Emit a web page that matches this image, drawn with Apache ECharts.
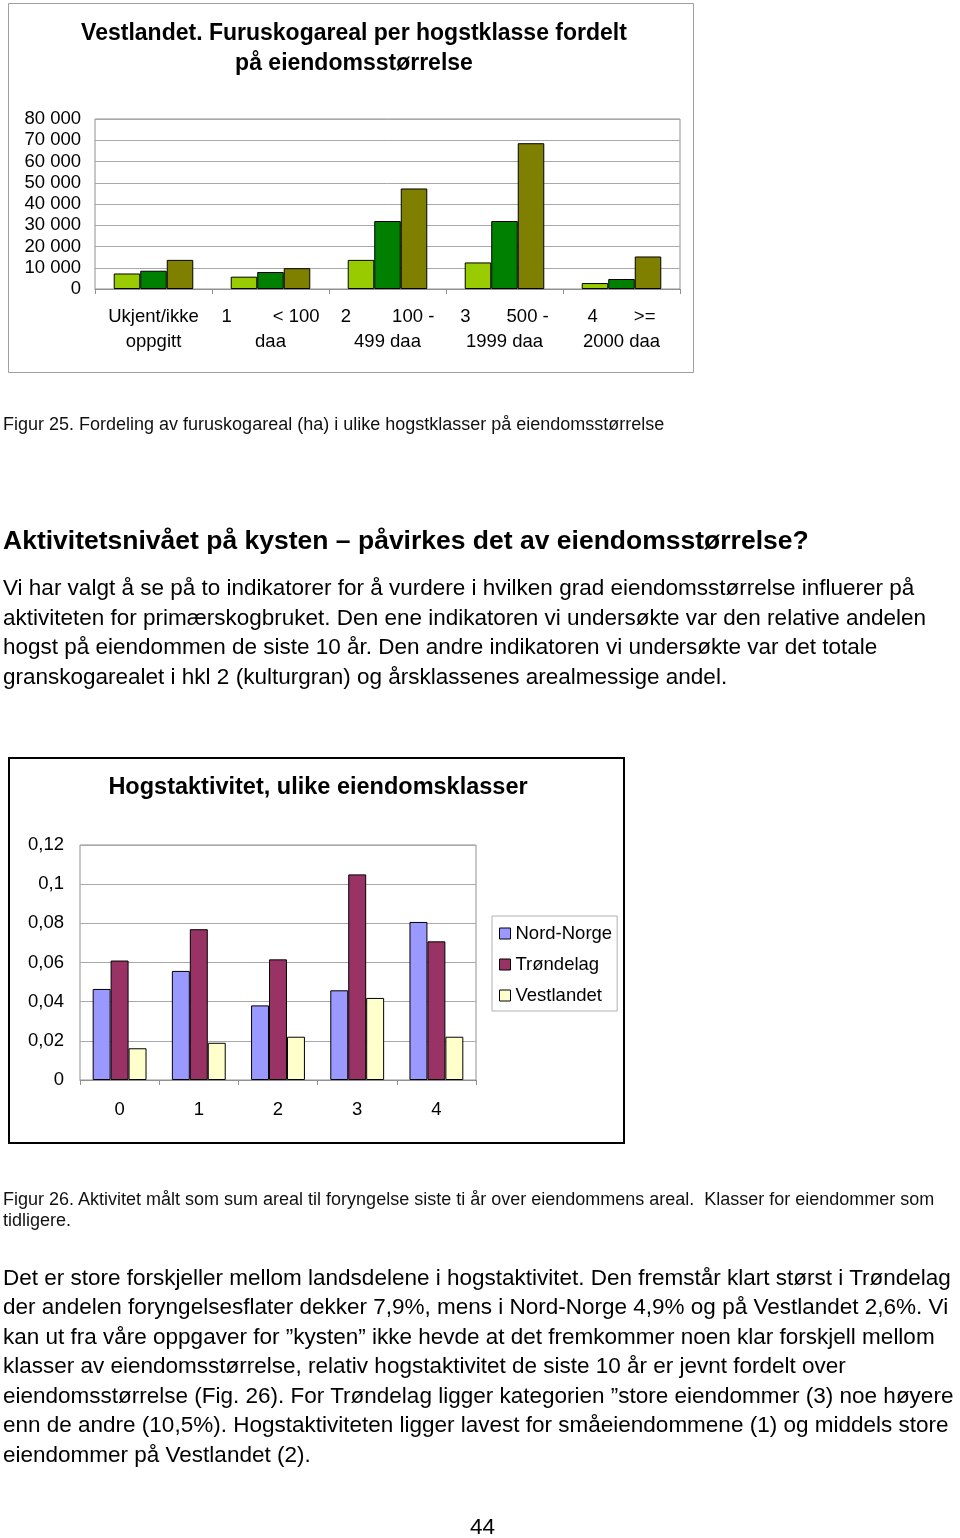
<!DOCTYPE html>
<html>
<head>
<meta charset="utf-8">
<script src="https://cdn.jsdelivr.net/npm/echarts@6/dist/echarts.min.js"></script>
<style>
  html, body { margin: 0; padding: 0; background: #fff; }
  body { width: 960px; height: 1538px; position: relative; overflow: hidden; font-family: "Liberation Sans", Arial, sans-serif; color: #000; }
  #chart { position: absolute; left: 0; top: 0; width: 960px; height: 1538px; }
  .t { position: absolute; white-space: pre; left: 3px; z-index: 2; }
  .p { font-size: 22.5px; line-height: 30px; height: 30px; }
  .cap { font-size: 18px; line-height: 22px; height: 22px; color: #111; }
  .h { font-size: 26.5px; font-weight: bold; line-height: 32px; height: 32px; }
</style>
</head>
<body>
<div id="chart"></div>

<div class="t cap" style="top:413px">Figur 25. Fordeling av furuskogareal (ha) i ulike hogstklasser på eiendomsstørrelse</div>
<div class="t h" style="top:524px">Aktivitetsnivået på kysten – påvirkes det av eiendomsstørrelse?</div>
<div class="t p" style="top:573px">Vi har valgt å se på to indikatorer for å vurdere i hvilken grad eiendomsstørrelse influerer på</div>
<div class="t p" style="top:603px">aktiviteten for primærskogbruket. Den ene indikatoren vi undersøkte var den relative andelen</div>
<div class="t p" style="top:632px">hogst på eiendommen de siste 10 år. Den andre indikatoren vi undersøkte var det totale</div>
<div class="t p" style="top:662px">granskogarealet i hkl 2 (kulturgran) og årsklassenes arealmessige andel.</div>

<div class="t cap" style="top:1188px">Figur 26. Aktivitet målt som sum areal til foryngelse siste ti år over eiendommens areal.  Klasser for eiendommer som</div>
<div class="t cap" style="top:1209px">tidligere.</div>

<div class="t p" style="top:1263px">Det er store forskjeller mellom landsdelene i hogstaktivitet. Den fremstår klart størst i Trøndelag</div>
<div class="t p" style="top:1292px">der andelen foryngelsesflater dekker 7,9%, mens i Nord-Norge 4,9% og på Vestlandet 2,6%. Vi</div>
<div class="t p" style="top:1322px">kan ut fra våre oppgaver for ”kysten” ikke hevde at det fremkommer noen klar forskjell mellom</div>
<div class="t p" style="top:1351px">klasser av eiendomsstørrelse, relativ hogstaktivitet de siste 10 år er jevnt fordelt over</div>
<div class="t p" style="top:1381px">eiendomsstørrelse (Fig. 26). For Trøndelag ligger kategorien ”store eiendommer (3) noe høyere</div>
<div class="t p" style="top:1410px">enn de andre (10,5%). Hogstaktiviteten ligger lavest for småeiendommene (1) og middels store</div>
<div class="t p" style="top:1440px">eiendommer på Vestlandet (2).</div>

<div class="t p" style="top:1512px; left:470px">44</div>

<script>
// ---- Chart 1 data: Vestlandet, furuskogareal per hogstklasse ----
const furuCategories = [
  'Ukjent/ikke\noppgitt',
  '1        < 100\ndaa',
  '2        100 -\n499 daa',
  '3       500 -\n1999 daa',
  '4       >=\n2000 daa'
];
const furuSeriesA = [7300, 5800, 13700, 12500, 2800];
const furuSeriesB = [8600, 8000, 32000, 32000, 4700];
const furuSeriesC = [13700, 9800, 47300, 68600, 15300];
const furuTicks = [0, 10000, 20000, 30000, 40000, 50000, 60000, 70000, 80000];

// ---- Chart 2 data: Hogstaktivitet, ulike eiendomsklasser ----
const aktCategories = ['0', '1', '2', '3', '4'];
const nordNorge = [0.0465, 0.0557, 0.0381, 0.0458, 0.0807];
const trondelag = [0.061, 0.077, 0.0616, 0.105, 0.0708];
const vestlandet = [0.0162, 0.019, 0.0221, 0.0419, 0.0221];
const aktTicks = [0, 0.02, 0.04, 0.06, 0.08, 0.1, 0.12];

const FONT = '"Liberation Sans", Arial, sans-serif';
const chart = echarts.init(document.getElementById('chart'), null, { renderer: 'canvas' });

function fmtThousand(v) {
  return String(Math.round(v)).replace(/\B(?=(\d{3})+(?!\d))/g, ' ');
}
function fmtDec(v) {
  return String(parseFloat(v.toFixed(2))).replace('.', ',');
}

const barBorder = { borderColor: '#000', borderWidth: 1 };

chart.setOption({
  animation: false,
  backgroundColor: '#fff',
  textStyle: { fontFamily: FONT },
  title: [
    {
      text: 'Vestlandet. Furuskogareal per hogstklasse fordelt\npå eiendomsstørrelse',
      left: 349, top: 14, textAlign: 'center',
      textStyle: { fontSize: 23, fontWeight: 'bold', color: '#000', lineHeight: 30, fontFamily: FONT }
    },
    {
      text: 'Hogstaktivitet, ulike eiendomsklasser',
      left: 313, top: 771, textAlign: 'center',
      textStyle: { fontSize: 23.5, fontWeight: 'bold', color: '#000', fontFamily: FONT }
    }
  ],
  legend: {
    show: true,
    data: ['Nord-Norge', 'Trøndelag', 'Vestlandet'],
    orient: 'vertical',
    left: 492, top: 916,
    padding: [8, 5, 6, 7],
    itemGap: 12,
    itemWidth: 11, itemHeight: 11,
    icon: 'rect',
    borderColor: '#b0b0b0', borderWidth: 1,
    backgroundColor: '#fff',
    itemStyle: { borderColor: '#000', borderWidth: 1 },
    textStyle: { fontSize: 18.5, color: '#000', fontFamily: FONT }
  },
  graphic: [
    { type: 'rect', shape: { x: 8.5, y: 3.5, width: 685, height: 369 }, style: { fill: 'none', stroke: '#a0a0a0', lineWidth: 1 }, z: 0 },
    { type: 'rect', shape: { x: 9, y: 758, width: 615, height: 385 }, style: { fill: 'none', stroke: '#000', lineWidth: 2 }, z: 0 }
  ],
  grid: [
    { left: 95, top: 119, width: 585, height: 170, show: true, borderColor: '#909090', borderWidth: 1, backgroundColor: '#fff' },
    { left: 80, top: 845, width: 396, height: 235, show: true, borderColor: '#909090', borderWidth: 1, backgroundColor: '#fff' }
  ],
  xAxis: [
    {
      gridIndex: 0, type: 'category', data: furuCategories, boundaryGap: true,
      axisLine: { lineStyle: { color: '#909090' } },
      axisTick: { show: true, length: 5, lineStyle: { color: '#909090' } },
      axisLabel: { fontSize: 18.5, color: '#000', margin: 15, lineHeight: 25, interval: 0, fontFamily: FONT }
    },
    {
      gridIndex: 1, type: 'category', data: aktCategories, boundaryGap: true,
      axisLine: { lineStyle: { color: '#909090' } },
      axisTick: { show: true, length: 5, lineStyle: { color: '#909090' } },
      axisLabel: { fontSize: 18.5, color: '#000', margin: 20, interval: 0, fontFamily: FONT }
    }
  ],
  yAxis: [
    {
      gridIndex: 0, type: 'value', min: furuTicks[0], max: furuTicks[furuTicks.length - 1], interval: furuTicks[1] - furuTicks[0],
      axisLine: { show: false }, axisTick: { show: false },
      splitLine: { lineStyle: { color: '#a8a8a8' } },
      axisLabel: { fontSize: 18.5, color: '#000', margin: 14, formatter: fmtThousand, fontFamily: FONT }
    },
    {
      gridIndex: 1, type: 'value', min: aktTicks[0], max: aktTicks[aktTicks.length - 1], interval: 0.02,
      axisLine: { show: false }, axisTick: { show: false },
      splitLine: { lineStyle: { color: '#a8a8a8' } },
      axisLabel: { fontSize: 18.5, color: '#000', margin: 16, formatter: fmtDec, fontFamily: FONT }
    }
  ],
  series: [
    { name: 'Hkl A', type: 'bar', xAxisIndex: 0, yAxisIndex: 0, data: furuSeriesA, barGap: '0%', barCategoryGap: '32%', itemStyle: Object.assign({ color: '#99cc00' }, barBorder) },
    { name: 'Hkl B', type: 'bar', xAxisIndex: 0, yAxisIndex: 0, data: furuSeriesB, barGap: '0%', barCategoryGap: '32%', itemStyle: Object.assign({ color: '#008000' }, barBorder) },
    { name: 'Hkl C', type: 'bar', xAxisIndex: 0, yAxisIndex: 0, data: furuSeriesC, barGap: '0%', barCategoryGap: '32%', itemStyle: Object.assign({ color: '#808000' }, barBorder) },
    { name: 'Nord-Norge', type: 'bar', xAxisIndex: 1, yAxisIndex: 1, data: nordNorge, barGap: '0%', barCategoryGap: '32%', itemStyle: Object.assign({ color: '#9999ff' }, barBorder) },
    { name: 'Trøndelag', type: 'bar', xAxisIndex: 1, yAxisIndex: 1, data: trondelag, barGap: '0%', barCategoryGap: '32%', itemStyle: Object.assign({ color: '#993366' }, barBorder) },
    { name: 'Vestlandet', type: 'bar', xAxisIndex: 1, yAxisIndex: 1, data: vestlandet, barGap: '0%', barCategoryGap: '32%', itemStyle: Object.assign({ color: '#ffffcc' }, barBorder) }
  ]
});
</script>
</body>
</html>
